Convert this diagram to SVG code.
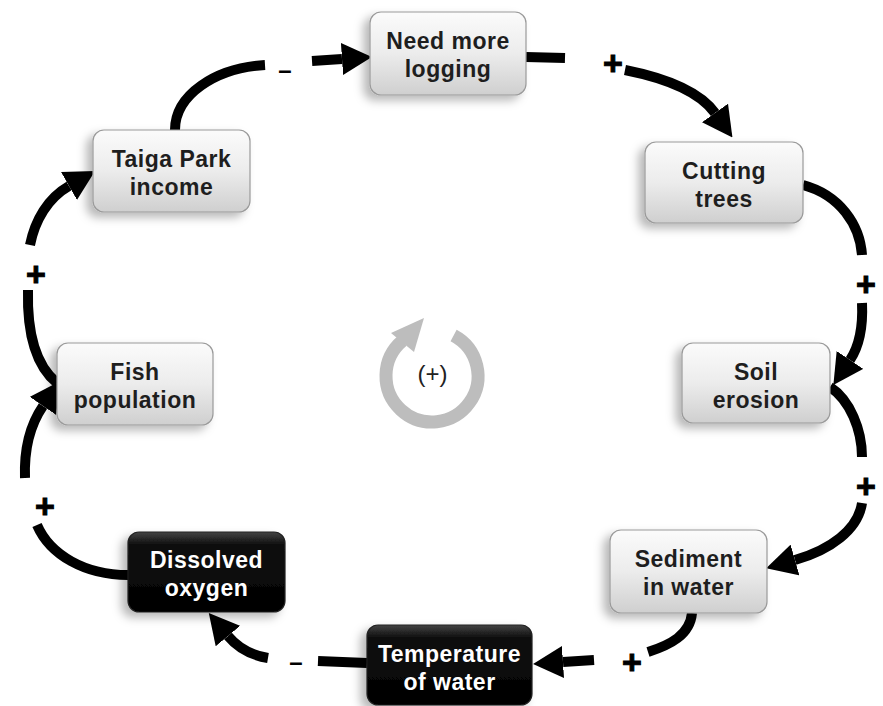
<svg xmlns="http://www.w3.org/2000/svg" width="883" height="706" viewBox="0 0 883 706">
<defs>
<linearGradient id="gl" x1="0" y1="0" x2="0" y2="1">
<stop offset="0" stop-color="#fbfbfb"/><stop offset="0.5" stop-color="#ececec"/><stop offset="1" stop-color="#cfcfcf"/>
</linearGradient>
<linearGradient id="gd" x1="0" y1="0" x2="0" y2="1">
<stop offset="0" stop-color="#444"/><stop offset="0.15" stop-color="#111"/><stop offset="1" stop-color="#000"/>
</linearGradient>
<filter id="sh" x="-20%" y="-20%" width="140%" height="150%">
<feDropShadow dx="-6" dy="5" stdDeviation="5" flood-color="#000" flood-opacity="0.28"/>
</filter>
<marker id="ah" viewBox="0 -16 30 32" refX="0" refY="0" markerWidth="30" markerHeight="32" markerUnits="userSpaceOnUse" orient="auto">
<path d="M0,-16 L30,0 L0,16 z" fill="#000"/>
</marker>
<style>
.box{fill:url(#gl);stroke:#9a9a9a;stroke-width:1.2;filter:url(#sh)}
.dbox{fill:url(#gd);stroke:#222;stroke-width:1.2;filter:url(#sh)}
.t{font-family:"Liberation Sans",Arial,sans-serif;font-weight:bold;font-size:23px;letter-spacing:0.5px;text-anchor:middle;fill:#1e1e1e}
.tw{fill:#fff}
.c{fill:none;stroke:#000;stroke-width:10}
.ca{fill:none;stroke:#000;stroke-width:10;marker-end:url(#ah)}
.sg{font-family:"Liberation Sans",Arial,sans-serif;font-weight:bold;font-size:34px;text-anchor:middle;fill:#000;stroke:#000;stroke-width:1}
.mn{font-family:"Liberation Sans",Arial,sans-serif;font-weight:bold;font-size:24px;text-anchor:middle;fill:#000}
</style>
</defs>
<rect width="883" height="706" fill="#fff"/>

<g id="connectors">
<path class="c" d="M175 130 C175 95 215 68 265 65"/>
<path class="ca" d="M312 61 L342 59"/>
<path class="c" d="M526 57 L565 58"/>
<path class="ca" d="M625 70 C665 78 700 92 715 113"/>
<path class="c" d="M803 185 C840 195 860 225 862 255"/>
<path class="ca" d="M862 303 C863 325 860 345 850 360"/>
<path class="c" d="M830 387 C850 400 862 430 862 457"/>
<path class="ca" d="M862 503 C858 530 830 550 795 560"/>
<path class="c" d="M692 613 C690 635 670 645 648 652"/>
<path class="ca" d="M594 660 L563 662"/>
<path class="c" d="M367 663 L318 661"/>
<path class="ca" d="M268 658 C250 655 238 648 228 636"/>
<path class="c" d="M128 575 C85 575 50 555 37 525"/>
<path class="ca" d="M25 478 C24 450 30 425 43 406"/>
<path class="c" d="M57 383 C35 365 27 330 28 290"/>
<path class="ca" d="M30 245 C35 220 48 198 69 186"/>
<text class="mn" x="285" y="78">–</text>
<text class="sg" x="613" y="75">+</text>
<text class="sg" x="866" y="296">+</text>
<text class="sg" x="866" y="498">+</text>
<text class="sg" x="632" y="674">+</text>
<text class="mn" x="296" y="670">–</text>
<text class="sg" x="45" y="518">+</text>
<text class="sg" x="36" y="286">+</text>
</g>

<g id="loop">
<path d="M453.6 335.4 A46 46 0 1 1 402.4 340.8" fill="none" stroke="#bdbdbd" stroke-width="13"/>
<path d="M424 318 L414 352 L391 333 z" fill="#bdbdbd"/>
<text x="432.5" y="382" font-family="Liberation Sans,Arial,sans-serif" font-size="24" text-anchor="middle" fill="#222">(+)</text>
</g>

<g id="need-more-logging">
<rect class="box" x="370" y="12" width="156" height="83" rx="11"/>
<text class="t" x="448" y="49">Need more</text>
<text class="t" x="448" y="77">logging</text>
</g>
<g id="cutting-trees">
<rect class="box" x="645" y="142" width="158" height="81" rx="11"/>
<text class="t" x="724" y="179">Cutting</text>
<text class="t" x="724" y="207">trees</text>
</g>
<g id="soil-erosion">
<rect class="box" x="682" y="343" width="148" height="80" rx="11"/>
<text class="t" x="756" y="380">Soil</text>
<text class="t" x="756" y="408">erosion</text>
</g>
<g id="sediment-in-water">
<rect class="box" x="610" y="530" width="157" height="83" rx="11"/>
<text class="t" x="688.5" y="567">Sediment</text>
<text class="t" x="688.5" y="595">in water</text>
</g>
<g id="temperature-of-water">
<rect class="dbox" x="367" y="625" width="165" height="80" rx="11"/>
<text class="t tw" x="449.5" y="662">Temperature</text>
<text class="t tw" x="449.5" y="690">of water</text>
</g>
<g id="dissolved-oxygen">
<rect class="dbox" x="128" y="532" width="157" height="80" rx="11"/>
<text class="t tw" x="206.5" y="568">Dissolved</text>
<text class="t tw" x="206.5" y="596">oxygen</text>
</g>
<g id="fish-population">
<rect class="box" x="57" y="343" width="156" height="82" rx="11"/>
<text class="t" x="135" y="380">Fish</text>
<text class="t" x="135" y="408">population</text>
</g>
<g id="taiga-park-income">
<rect class="box" x="93" y="130" width="157" height="82" rx="11"/>
<text class="t" x="171.5" y="167">Taiga Park</text>
<text class="t" x="171.5" y="195">income</text>
</g>
</svg>
